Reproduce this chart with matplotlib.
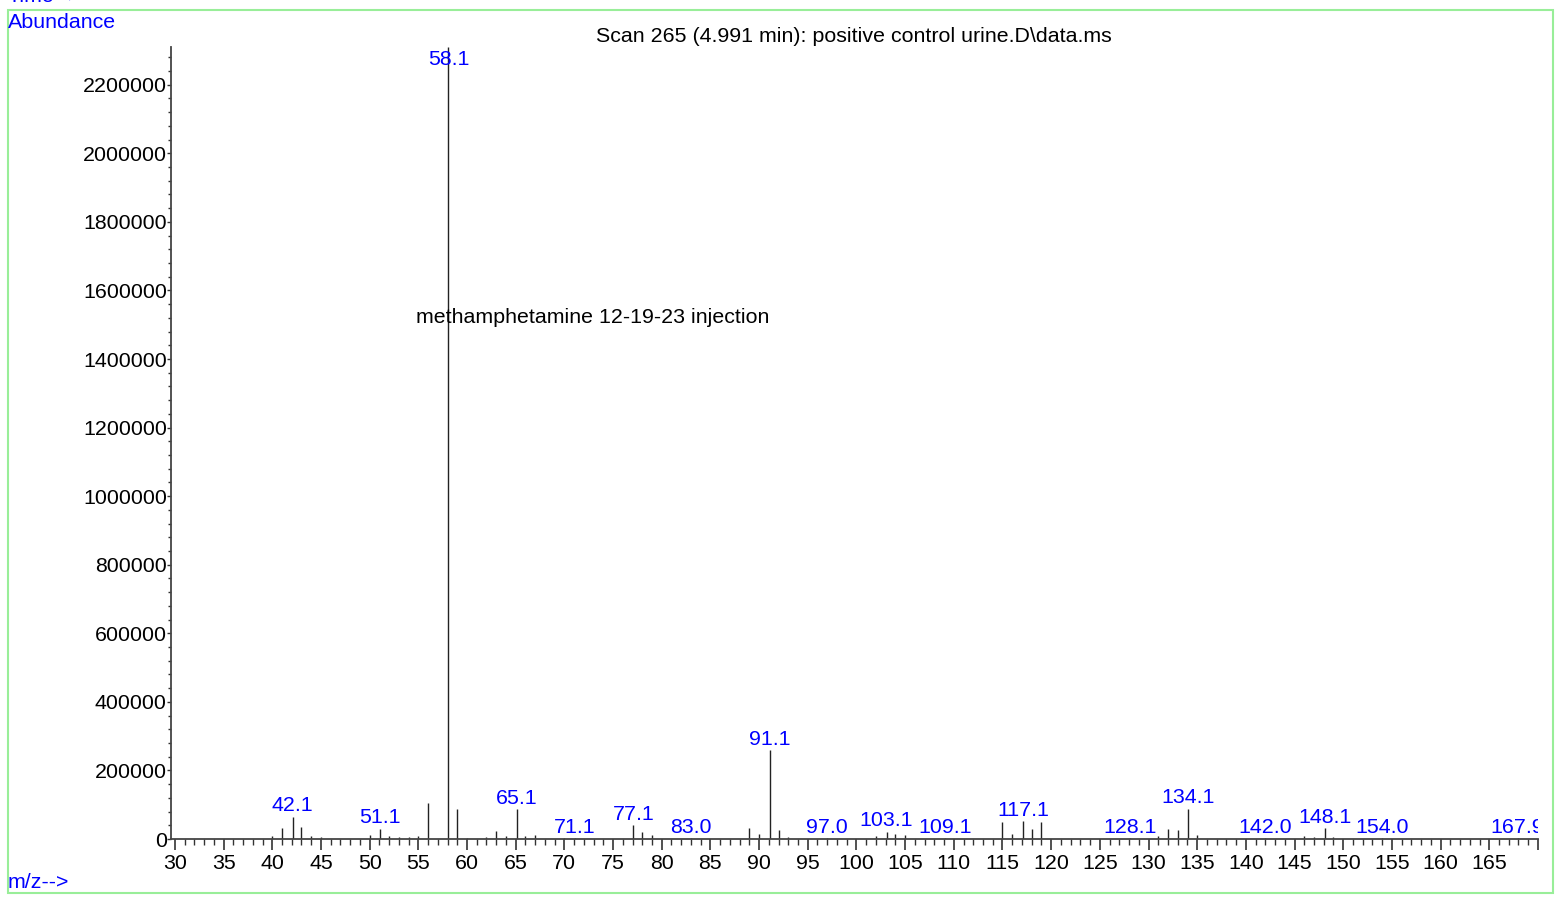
import matplotlib
matplotlib.use("Agg")
import matplotlib.pyplot as plt
from matplotlib.patches import Rectangle
from matplotlib.ticker import MultipleLocator, FuncFormatter

plt.rcParams['font.family'] = ['Liberation Sans', 'DejaVu Sans']

# spectrum (m/z, abundance)
mz = [40, 41, 42.1, 43, 44, 45, 50, 51.1, 52, 53, 54, 55, 56, 58.1, 59, 60,
      62, 63, 64, 65.1, 66, 67, 70, 71.1, 77.1, 78, 79, 83.0, 89, 90, 91.1,
      92, 93, 97.0, 102, 103.1, 104, 105, 109.1, 115, 116, 117.1, 118, 119,
      128.1, 131, 132, 133, 134.1, 135, 142.0, 146, 147, 148.1, 149, 154.0,
      167.9]
abundance = [9000, 31000, 65000, 36000, 9000, 5000, 11000, 30000, 9000,
             6000, 7000, 8000, 104000, 2310000, 88000, 4000, 6000, 24000,
             8000, 87000, 8000, 12000, 4000, 2000, 41000, 21000, 12000, 2000,
             31000, 16000, 259000, 26000, 7000, 2000, 8000, 21000, 15000,
             13000, 2000, 50000, 15000, 52000, 29000, 50000, 2000, 8000,
             28000, 25000, 89000, 11000, 2000, 8000, 5000, 31000, 6000, 2000,
             2000]
labelled = ['42.1', '51.1', '58.1', '65.1', '71.1', '77.1', '83.0', '91.1',
            '97.0', '103.1', '109.1', '117.1', '128.1', '134.1', '142.0',
            '148.1', '154.0', '167.9']

title = "Scan 265 (4.991 min): positive control urine.D\\data.ms"
note = "methamphetamine 12-19-23 injection"

FS = 15.4

fig = plt.figure(figsize=(15.59, 8.99), dpi=100)
ax = fig.add_axes([0.1097, 0.0667, 0.9865 - 0.1097, 0.9477 - 0.0667])

ymax = 2310000
ax.vlines(mz, 0, abundance, color='#222222', lw=1.0)
ax.set_xlim(29.6, 170)
ax.set_ylim(0, ymax)

for x, h in zip(mz, abundance):
    lab = f"{x:.1f}"
    if lab not in labelled:
        continue
    if h >= ymax * 0.98:
        ax.annotate(lab, (x, ymax), xytext=(0, -2), textcoords='offset points',
                    ha='center', va='top', color='#0000ff', fontsize=FS,
                    annotation_clip=False, clip_on=True)
    else:
        ax.annotate(lab, (x, h), xytext=(0, 1), textcoords='offset points',
                    ha='center', va='bottom', color='#0000ff', fontsize=FS,
                    clip_on=True)

ax.text(54.8, 1520000, note, va='center', ha='left', fontsize=FS)

for s in ['top', 'right']:
    ax.spines[s].set_visible(False)
for s in ['left', 'bottom']:
    ax.spines[s].set_color('#444444')
    ax.spines[s].set_linewidth(1.3)

ax.set_xticks(range(30, 171, 5))
ax.set_xticklabels([str(v) if v < 170 else '' for v in range(30, 171, 5)])
ax.xaxis.set_minor_locator(MultipleLocator(1))
ax.yaxis.set_major_locator(MultipleLocator(200000))
ax.yaxis.set_minor_locator(MultipleLocator(40000))
ax.yaxis.set_major_formatter(FuncFormatter(lambda v, p: f"{int(round(v))}"))
ax.tick_params(axis='x', which='major', length=8, width=1.2, color='#333333',
               labelsize=FS, pad=3)
ax.tick_params(axis='x', which='minor', length=4, width=1, color='#333333')
ax.tick_params(axis='y', which='major', length=3, width=1, color='#333333',
               labelsize=FS, pad=0)
ax.tick_params(axis='y', which='minor', length=2.5, width=1, color='#333333')

fig.text(0.548, 1 - 36.5 / 899, title, ha='center', va='center', fontsize=FS)
fig.text(8 / 1559, 1 - 23 / 899, "Abundance", ha='left', va='center',
         fontsize=FS, color='#0000ff')
fig.text(8 / 1559, 1 - 882 / 899, "m/z-->", ha='left', va='center',
         fontsize=FS, color='#0000ff')
fig.text(8 / 1559, 1 - 6 / 899, "Time-->", ha='left', va='bottom',
         fontsize=FS, color='#0000ff')

fig.patches.append(Rectangle((8 / 1559, 1 - 893 / 899), 1545 / 1559, 883 / 899,
                             transform=fig.transFigure, fill=False,
                             edgecolor='#99ee99', lw=1.5))

fig.savefig("out.png", dpi=100)
